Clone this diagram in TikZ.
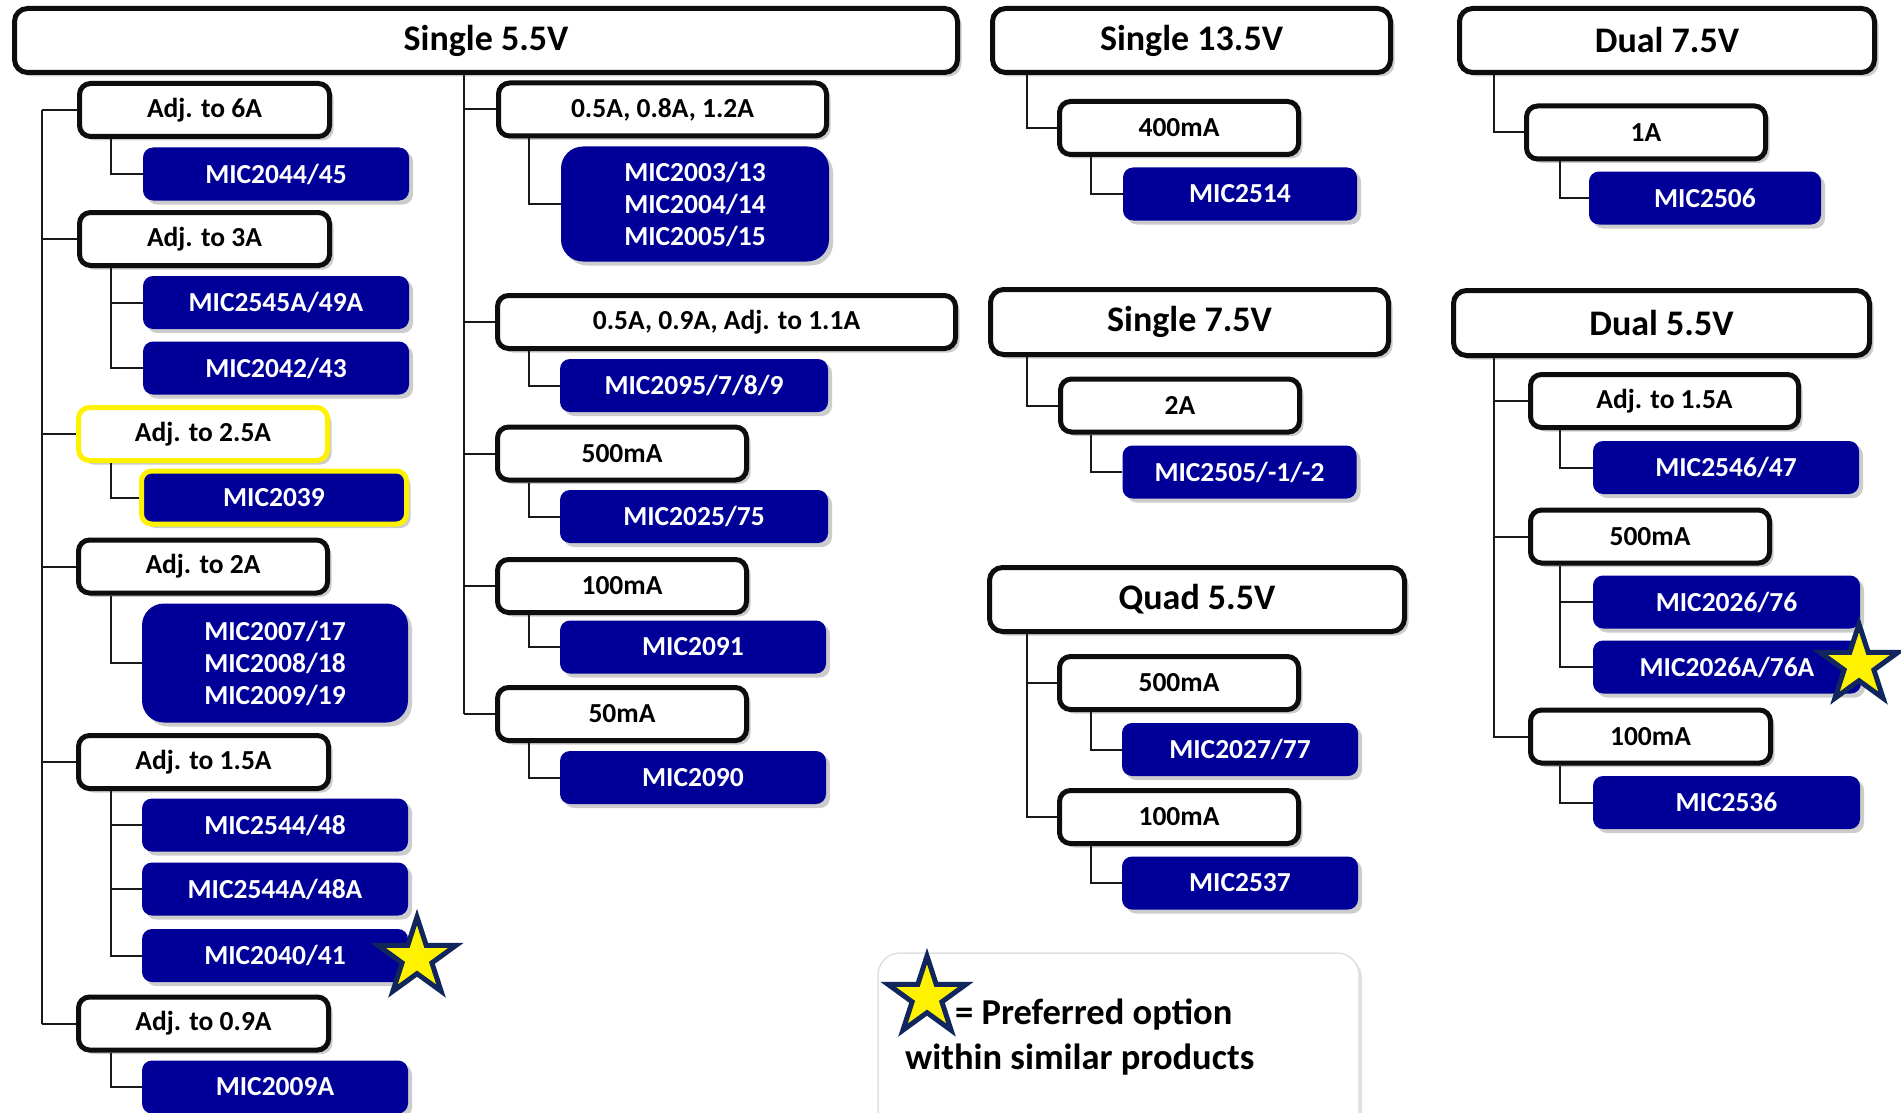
\documentclass[tikz,border=0pt]{standalone}
\usepackage{fontspec}
\setmainfont{Carlito}
\usetikzlibrary{shapes.geometric,shadows}
\definecolor{micblue}{RGB}{0,0,153}
\definecolor{starnavy}{RGB}{16,38,92}
\definecolor{boxblack}{RGB}{13,13,13}
\begin{document}
\begin{tikzpicture}[x=1pt,y=-1pt,
  shad/.style={drop shadow={shadow xshift=4pt,shadow yshift=-4pt,opacity=0.2,fill=black}},
  hdr/.style={draw=boxblack,line width=5pt,rounded corners=13pt,fill=white,inner sep=0pt,minimum height=64pt,font=\fontsize{36}{40}\selectfont\bfseries,shad},
  lbl/.style={draw=boxblack,line width=5pt,rounded corners=11pt,fill=white,inner sep=0pt,minimum height=53pt,font=\fontsize{27.5}{32}\selectfont\bfseries,shad},
  mic/.style={fill=micblue,text=white,rounded corners=10pt,inner sep=0pt,minimum height=53pt,font=\fontsize{27.5}{32}\selectfont\bfseries,shad},
  micgrp/.style={mic,rounded corners=22pt,align=center},
  hl/.style={draw=yellow,line width=5pt},
  conn/.style={line width=2pt,draw=black!90},
  pstar/.style={star,star points=5,star point ratio=2.618,inner sep=0pt,minimum size=82pt,fill=yellow,draw=starnavy,line width=5pt},
  legtxt/.style={anchor=base west,inner sep=0pt,font=\fontsize{36.5}{40}\selectfont\bfseries},
]
\fill[white] (0,0) rectangle (1901,1113);
\useasboundingbox (0,0) rectangle (1901,1113);

% ---------- headers ----------
\node[hdr,minimum width=943pt] (H1) at (486,40.5) {Single 5.5V};
\node[hdr,minimum width=398pt] (H2) at (1191.5,40.5) {Single 13.5V};
\node[hdr,minimum width=398pt,minimum height=65pt] (H3) at (1189.5,322) {Single 7.5V};
\node[hdr,minimum width=415pt] (H4) at (1197,599.5) {Quad 5.5V};
\node[hdr,minimum width=415pt] (H5) at (1667,40.5) {Dual 7.5V};
\node[hdr,minimum width=416pt,minimum height=65pt] (H6) at (1661.5,323) {Dual 5.5V};

% ---------- column 1 ----------
\node[lbl,minimum width=250pt] (a6) at (204.5,110) {Adj. to 6A};
\node[mic,minimum width=266pt] (m1) at (276,174) {MIC2044/45};
\node[lbl,minimum width=250pt] (a3) at (204.5,239) {Adj. to 3A};
\node[mic,minimum width=266pt] (m2) at (276,302.5) {MIC2545A/49A};
\node[mic,minimum width=266pt] (m3) at (276,368) {MIC2042/43};
\node[lbl,hl,minimum width=249pt] (a25) at (203,434) {Adj. to 2.5A};
\node[mic,hl,minimum width=265pt] (m4) at (274,497.5) {MIC2039};
\node[lbl,minimum width=249pt] (a2) at (203,566.5) {Adj. to 2A};
\node[micgrp,minimum width=266pt,minimum height=119pt] (m5) at (275,663) {MIC2007/17\\MIC2008/18\\MIC2009/19};
\node[lbl,minimum width=250pt] (a15) at (203.5,762) {Adj. to 1.5A};
\node[mic,minimum width=266pt] (m6) at (275,825) {MIC2544/48};
\node[mic,minimum width=266pt] (m7) at (275,889) {MIC2544A/48A};
\node[mic,minimum width=266pt] (m8) at (275,955.5) {MIC2040/41};
\node[lbl,minimum width=250pt] (a09) at (203.5,1023.5) {Adj. to 0.9A};
\node[mic,minimum width=266pt] (m9) at (275,1087) {MIC2009A};

% ---------- column 2 ----------
\node[lbl,minimum width=328pt] (b1) at (662.5,109.5) {0.5A, 0.8A, 1.2A};
\node[micgrp,minimum width=268pt,minimum height=115pt] (n1) at (695,204) {MIC2003/13\\MIC2004/14\\MIC2005/15};
\node[lbl,minimum width=458pt] (b2) at (726.5,322) {0.5A, 0.9A, Adj. to 1.1A};
\node[mic,minimum width=268pt] (n2) at (694,385.5) {MIC2095/7/8/9};
\node[lbl,minimum width=249pt] (b3) at (622,453.5) {500mA};
\node[mic,minimum width=268pt] (n3) at (694,516.5) {MIC2025/75};
\node[lbl,minimum width=249pt] (b4) at (622,586) {100mA};
\node[mic,minimum width=266pt] (n4) at (693,647) {MIC2091};
\node[lbl,minimum width=249pt] (b5) at (622,714) {50mA};
\node[mic,minimum width=266pt] (n5) at (693,777.5) {MIC2090};

% ---------- column 3 ----------
\node[lbl,minimum width=239pt] (c1) at (1179,128) {400mA};
\node[mic,minimum width=234pt] (p1) at (1240,194) {MIC2514};
\node[lbl,minimum width=239pt] (c2) at (1180,405.5) {2A};
\node[mic,minimum width=234pt] (p2) at (1239.5,472) {MIC2505/-1/-2};
\node[lbl,minimum width=239pt] (c3) at (1179,683) {500mA};
\node[mic,minimum width=236pt] (p3) at (1240,749.5) {MIC2027/77};
\node[lbl,minimum width=239pt] (c4) at (1179,817) {100mA};
\node[mic,minimum width=236pt] (p4) at (1240,883) {MIC2537};

% ---------- column 4 ----------
\node[lbl,minimum width=239pt] (d1) at (1646,132.5) {1A};
\node[mic,minimum width=232pt] (q1) at (1705,198) {MIC2506};
\node[lbl,minimum width=268pt] (d2) at (1664.5,401) {Adj. to 1.5A};
\node[mic,minimum width=266pt] (q2) at (1726,467.5) {MIC2546/47};
\node[lbl,minimum width=239pt] (d3) at (1650,536.5) {500mA};
\node[mic,minimum width=267pt] (q3) at (1726.5,602) {MIC2026/76};
\node[mic,minimum width=268pt] (q4) at (1727,667) {MIC2026A/76A};
\node[lbl,minimum width=240pt] (d4) at (1650.5,736.5) {100mA};
\node[mic,minimum width=267pt] (q5) at (1726.5,802.5) {MIC2536};

% ---------- connectors ----------
\coordinate (tr1) at (42,0);   \coordinate (sx1) at (111,0);
\coordinate (tr2) at (464,0);  \coordinate (sx2) at (529,0);
\coordinate (tr3) at (1027,0); \coordinate (sx3) at (1091,0);
\coordinate (tr4) at (1494,0); \coordinate (sx4) at (1560,0);

\draw[conn] (a6.west -| tr1) -- (a09.west -| tr1);
\foreach \n in {a6,a3,a25,a2,a15,a09} \draw[conn] (\n.west -| tr1) -- (\n.west);
\draw[conn] (a6.south -| sx1) |- (m1.west);
\draw[conn] (a3.south -| sx1) |- (m3.west);
\draw[conn] (m2.west -| sx1) -- (m2.west);
\draw[conn] (a25.south -| sx1) |- (m4.west);
\draw[conn] (a2.south -| sx1) |- (m5.west);
\draw[conn] (a15.south -| sx1) |- (m8.west);
\draw[conn] (m6.west -| sx1) -- (m6.west);
\draw[conn] (m7.west -| sx1) -- (m7.west);
\draw[conn] (a09.south -| sx1) |- (m9.west);

\draw[conn] (H1.south -| tr2) -- (b5.west -| tr2);
\foreach \n in {b1,b2,b3,b4,b5} \draw[conn] (\n.west -| tr2) -- (\n.west);
\draw[conn] (b1.south -| sx2) |- (n1.west);
\draw[conn] (b2.south -| sx2) |- (n2.west);
\draw[conn] (b3.south -| sx2) |- (n3.west);
\draw[conn] (b4.south -| sx2) |- (n4.west);
\draw[conn] (b5.south -| sx2) |- (n5.west);

\draw[conn] (H2.south -| tr3) |- (c1.west);
\draw[conn] (c1.south -| sx3) |- (p1.west);
\draw[conn] (H3.south -| tr3) |- (c2.west);
\draw[conn] (c2.south -| sx3) |- (p2.west);
\draw[conn] (H4.south -| tr3) |- (c4.west);
\draw[conn] (c3.west -| tr3) -- (c3.west);
\draw[conn] (c3.south -| sx3) |- (p3.west);
\draw[conn] (c4.south -| sx3) |- (p4.west);

\draw[conn] (H5.south -| tr4) |- (d1.west);
\draw[conn] (d1.south -| sx4) |- (q1.west);
\draw[conn] (H6.south -| tr4) |- (d4.west);
\draw[conn] (d2.west -| tr4) -- (d2.west);
\draw[conn] (d3.west -| tr4) -- (d3.west);
\draw[conn] (d2.south -| sx4) |- (q2.west);
\draw[conn] (d3.south -| sx4) |- (q4.west);
\draw[conn] (q3.west -| sx4) -- (q3.west);
\draw[conn] (d4.south -| sx4) |- (q5.west);

% ---------- stars ----------
\node[pstar] (s1) at (417,958) {};
\node[pstar] (s2) at (1859,665) {};

% ---------- legend ----------
\node[fill=white,draw=black!12,line width=1.5pt,rounded corners=22pt,minimum width=481pt,minimum height=200pt,drop shadow={shadow xshift=3pt,shadow yshift=-3pt,opacity=0.12,fill=black}] (leg) at (1118.5,1053) {};
\node[legtxt] (lt1) at (955,1024) {= Preferred option};
\node[legtxt] (lt2) at (905,1069) {within similar products};
\node[pstar] (s3) at (927,997) {};
\end{tikzpicture}
\end{document}
